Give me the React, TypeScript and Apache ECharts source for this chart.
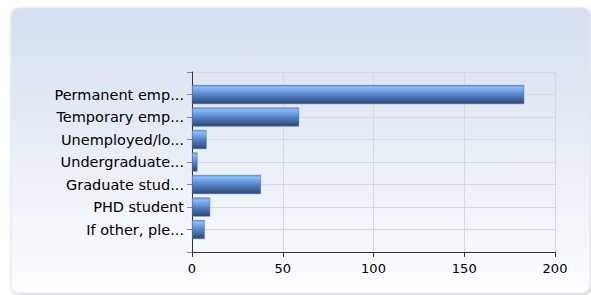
import React, { useEffect, useRef } from "react";
import * as echarts from "echarts";

const categories = [
  "Permanent emp...",
  "Temporary emp...",
  "Unemployed/lo...",
  "Undergraduate...",
  "Graduate stud...",
  "PHD student",
  "If other, ple...",
];
const values = [183, 59, 8, 3, 38, 10, 7];
const xTicks = { min: 0, max: 200, interval: 50 };

export default function App() {
  const ref = useRef<HTMLDivElement>(null);
  useEffect(() => {
    if (!ref.current) return;
    const chart = echarts.init(ref.current, null, { renderer: "svg" });
    const cats = ["", ...categories, ""];
    const vals: (number | null)[] = [null, ...values, null];
    const font = "DejaVu Sans";
    chart.setOption({
      animation: false,
      graphic: [
        {
          type: "rect",
          z: -10,
          shape: { x: 11, y: 8, width: 579, height: 285, r: 8 },
          style: {
            fill: new echarts.graphic.LinearGradient(0, 0, 0, 1, [
              { offset: 0, color: "#d5dff0" },
              { offset: 1, color: "#fcfdfe" },
            ]),
            stroke: "#e4e8ef",
            lineWidth: 1,
            shadowBlur: 3,
            shadowOffsetX: 1,
            shadowOffsetY: 1,
            shadowColor: "rgba(0,0,0,0.25)",
          },
        },
      ],
      grid: { left: 192, top: 72, width: 363, height: 180, containLabel: false },
      xAxis: {
        type: "value",
        min: xTicks.min,
        max: xTicks.max,
        interval: xTicks.interval,
        axisLine: { show: true, lineStyle: { color: "#333", width: 1 } },
        axisTick: { show: true, length: 5, lineStyle: { color: "#333" } },
        axisLabel: { color: "#000", fontSize: 13, fontFamily: font, margin: 10 },
        splitLine: { show: true, lineStyle: { color: "#d3d9e2", width: 1 } },
      },
      yAxis: {
        type: "category",
        data: cats,
        inverse: true,
        boundaryGap: false,
        axisLine: { show: true, lineStyle: { color: "#333", width: 1 } },
        axisTick: { show: true, length: 5, lineStyle: { color: "#888" } },
        axisLabel: { color: "#000", fontSize: 14.5, fontFamily: font, margin: 8, interval: 0 },
        splitLine: { show: true, lineStyle: { color: "#d3d9e2", width: 1 } },
      },
      series: [
        {
          type: "bar",
          data: vals,
          barWidth: 19,
          itemStyle: {
            color: new echarts.graphic.LinearGradient(0, 0, 0, 1, [
              { offset: 0, color: "#6393d9" },
              { offset: 0.12, color: "#8cbbf5" },
              { offset: 0.45, color: "#5c8bd4" },
              { offset: 1, color: "#2b4572" },
            ]),
            borderColor: "#4a6ea8",
            borderWidth: 0.5,
          },
        },
      ],
    });
    return () => chart.dispose();
  }, []);
  return (
    <div
      ref={ref}
      style={{ position: "absolute", left: 0, top: 0, width: 591, height: 295 }}
    />
  );
}
